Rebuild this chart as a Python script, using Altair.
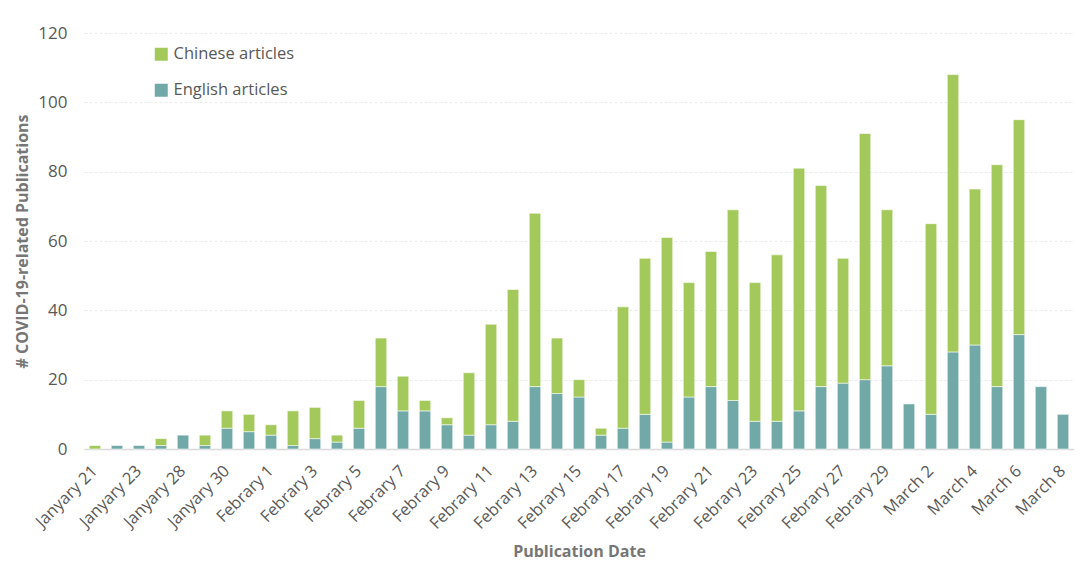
import altair as alt
import pandas as pd

dates = [
    "Janyary 21", "Janyary 22", "Janyary 23", "Janyary 24", "Janyary 28", "Janyary 29",
    "Janyary 30", "Janyary 31",
    "Febrary 1", "Febrary 2", "Febrary 3", "Febrary 4", "Febrary 5", "Febrary 6",
    "Febrary 7", "Febrary 8", "Febrary 9", "Febrary 10", "Febrary 11", "Febrary 12",
    "Febrary 13", "Febrary 14", "Febrary 15", "Febrary 16", "Febrary 17", "Febrary 18",
    "Febrary 19", "Febrary 20", "Febrary 21", "Febrary 22", "Febrary 23", "Febrary 24",
    "Febrary 25", "Febrary 26", "Febrary 27", "Febrary 28", "Febrary 29",
    "March 1", "March 2", "March 3", "March 4", "March 5", "March 6", "March 7", "March 8",
]
english = [0, 1, 1, 1, 4, 1, 6, 5, 4, 1, 3, 2, 6, 18, 11, 11, 7, 4, 7, 8, 18, 16, 15, 4,
           6, 10, 2, 15, 18, 14, 8, 8, 11, 18, 19, 20, 24, 13, 10, 28, 30, 18, 33, 18, 10]
chinese = [1, 0, 0, 2, 0, 3, 5, 5, 3, 10, 9, 2, 8, 14, 10, 3, 2, 18, 29, 38, 50, 16, 5, 2,
           35, 45, 59, 33, 39, 55, 40, 48, 70, 58, 36, 71, 45, 0, 55, 80, 45, 64, 62, 0, 0]
series = ["Chinese articles", "English articles"]
colors = ["#A2C95A", "#70A9A8"]
y_ticks = [0, 20, 40, 60, 80, 100, 120]
shown_labels = dates[::2]

rows = []
for i, d in enumerate(dates):
    if english[i] > 0:
        rows.append({"date": d, "lang": "English articles", "count": english[i], "stk": 0})
    if chinese[i] > 0:
        rows.append({"date": d, "lang": "Chinese articles", "count": chinese[i], "stk": 1})
df = pd.DataFrame(rows)

FONT = "Open Sans"
GRAY = "#595959"

chart = alt.Chart(df).mark_bar(
    stroke="white", strokeWidth=0.8, strokeOpacity=0.7
).encode(
    x=alt.X(
        "date:N", sort=dates,
        scale=alt.Scale(domain=dates, paddingInner=0.48, paddingOuter=0.24),
        axis=alt.Axis(
            values=shown_labels, labelAngle=-45, labelAlign="right",
            labelBaseline="middle", ticks=False, labelPadding=19,
            labelFont=FONT, labelFontSize=16.5, labelColor=GRAY,
            domain=True, domainColor="#D9D9D9", domainWidth=1.5,
            title="Publication Date", titleFont=FONT, titleFontSize=16,
            titleFontWeight="bold", titleColor="#767676",
            titleX=495, titleY=102, titleBaseline="middle", titleAlign="center",
        ),
    ),
    y=alt.Y(
        "count:Q", stack="zero",
        scale=alt.Scale(domain=[0, 120], nice=False),
        axis=alt.Axis(
            values=y_ticks, ticks=False, domain=False, labelPadding=17,
            labelFont=FONT, labelFontSize=17, labelColor=GRAY,
            grid=True, gridColor="#EBEBEB", gridDash=[3, 2], gridWidth=1,
            title="# COVID-19-related Publications", titleFont=FONT, titleFontSize=16,
            titleFontWeight="bold", titleColor="#767676",
            titleX=-62, titleY=208, titleAngle=-90, titleBaseline="middle",
            titleAlign="center",
        ),
    ),
    color=alt.Color(
        "lang:N",
        scale=alt.Scale(domain=series, range=colors),
        legend=alt.Legend(
            title=None, orient="none", legendX=69, legendY=13,
            symbolType="square", symbolSize=169, symbolStrokeWidth=0,
            symbolOpacity=1,
            labelFont=FONT, labelFontSize=16.5, labelColor=GRAY,
            labelOffset=4, rowPadding=19,
        ),
    ),
    order=alt.Order("stk:Q", sort="ascending"),
).properties(
    width=990, height=416,
    autosize=alt.AutoSizeParams(type="none"),
    padding={"left": 76, "top": 25, "right": 0, "bottom": 120},
).configure_view(stroke=None)

chart.save("out.html", embed_options={"renderer": "svg", "actions": False})
